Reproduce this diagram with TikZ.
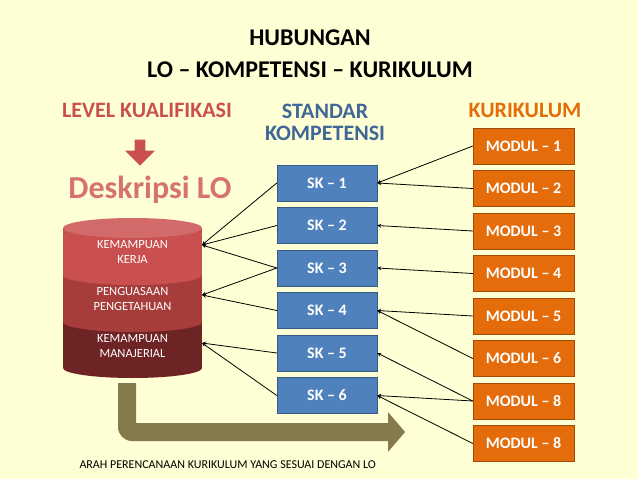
\documentclass[tikz,border=0pt]{standalone}
\usepackage{fontspec}
\setmainfont{Carlito}
\usetikzlibrary{positioning,arrows.meta,shapes.arrows}
\tikzset{>=stealth}
\definecolor{bgyellow}{HTML}{FFFFD5}
\definecolor{skblue}{HTML}{4F81BD}
\definecolor{modorange}{HTML}{E46C0A}
\definecolor{kerjared}{HTML}{C9504E}
\definecolor{penred}{HTML}{A63D3B}
\definecolor{manred}{HTML}{6E2424}
\definecolor{olive}{HTML}{857A4C}
\tikzset{
  skbox/.style={draw=skblue!70!black,fill=skblue,minimum width=100pt,minimum height=36pt,text=white,font=\bfseries\fontsize{16}{16}\selectfont},
  modbox/.style={draw=modorange!70!black,fill=modorange,minimum width=101pt,minimum height=36pt,text=white,font=\bfseries\fontsize{16}{16}\selectfont},
  layer/.style={text=white,font=\fontsize{12.5}{15}\selectfont,align=center},
  link/.style={->,line width=0.8pt}
}
\begin{document}
\begin{tikzpicture}[x=1pt,y=-1pt]
\fill[bgyellow] (0,0) rectangle (638,479);
\useasboundingbox (0,0) rectangle (638,479);
% titles
\node[font=\bfseries\fontsize{24}{24}\selectfont] (t1) at (310,38) {HUBUNGAN};
\node[font=\bfseries\fontsize{24}{24}\selectfont] (t2) at (310,70) {LO -- KOMPETENSI -- KURIKULUM};
\node[font=\bfseries\fontsize{22}{22}\selectfont,text=kerjared] (lvl) at (147,110) {LEVEL KUALIFIKASI};
\node[font=\bfseries\fontsize{22}{22}\selectfont,text=skblue!80!black,align=center] (std) at (325,122) {STANDAR\\KOMPETENSI};
\node[font=\bfseries\fontsize{22}{22}\selectfont,text=modorange] (kur) at (525,110) {KURIKULUM};
\node[font=\bfseries\fontsize{32}{32}\selectfont,text=kerjared!80] (desk) at (150,190) {Deskripsi LO};
\node[single arrow,shape border rotate=270,fill=kerjared,minimum width=30pt,single arrow head extend=4pt,minimum height=26pt,inner sep=2pt] (down) at (140,150) {};
% cylinder
\fill[manred] (63,322) rectangle (202,368);
\fill[manred] (132.5,368) ellipse[x radius=69.5,y radius=10];
\fill[penred] (63,275) rectangle (202,322);
\fill[penred] (132.5,322) ellipse[x radius=69.5,y radius=10];
\fill[kerjared] (63,228) rectangle (202,275);
\fill[kerjared] (132.5,275) ellipse[x radius=69.5,y radius=10];
\fill[kerjared!85!white] (132.5,228) ellipse[x radius=69.5,y radius=10];
\node[layer] (kerja) at (132.5,252) {KEMAMPUAN\\KERJA};
\node[layer] (peng) at (132.5,299) {PENGUASAAN\\PENGETAHUAN};
\node[layer] (man) at (132.5,346) {KEMAMPUAN\\MANAJERIAL};
\coordinate (cK) at (202,245);
\coordinate (cP) at (202,295);
\coordinate (cM) at (202,343);
% boxes
\foreach \i/\y in {1/183,2/225.5,3/268,4/310.5,5/353,6/395.5}
  \node[skbox] (sk\i) at (327,\y) {SK -- \i};
\foreach \i/\t/\y in {1/1/146,2/2/188.5,3/3/231,4/4/273.5,5/5/316,6/6/358.5,7/8/401,8/8/443.5}
  \node[modbox] (m\i) at (523.5,\y) {MODUL -- \t};
% links
\draw[link] (m1.west) -- (sk1.east);
\draw[link] (m2.west) -- (sk1.east);
\draw[link] (m3.west) -- (sk2.east);
\draw[link] (m4.west) -- (sk3.east);
\draw[link] (m5.west) -- (sk4.east);
\draw[link] (m6.west) -- (sk4.east);
\draw[link] (m7.west) -- (sk5.east);
\draw[link] (m7.west) -- (sk6.east);
\draw[link] (m8.west) -- (sk6.east);
\draw[link] (sk1.west) -- (cK);
\draw[link] (sk2.west) -- (cK);
\draw[link] (sk3.west) -- (cK);
\draw[link] (sk3.west) -- (cP);
\draw[link] (sk4.west) -- (cP);
\draw[link] (sk5.west) -- (cM);
\draw[link] (sk6.west) -- (cM);
% big arrow
\fill[olive] (118,383) -- (136,383) -- (136,423) -- (388,423) -- (388,412) -- (405,432)
  -- (388,452) -- (388,441) -- (132,441) to[out=180,in=270] (118,427) -- cycle;
\node[font=\fontsize{12}{12}\selectfont,anchor=west] (arah) at (76,465) {ARAH PERENCANAAN KURIKULUM YANG SESUAI DENGAN LO};
\end{tikzpicture}
\end{document}
